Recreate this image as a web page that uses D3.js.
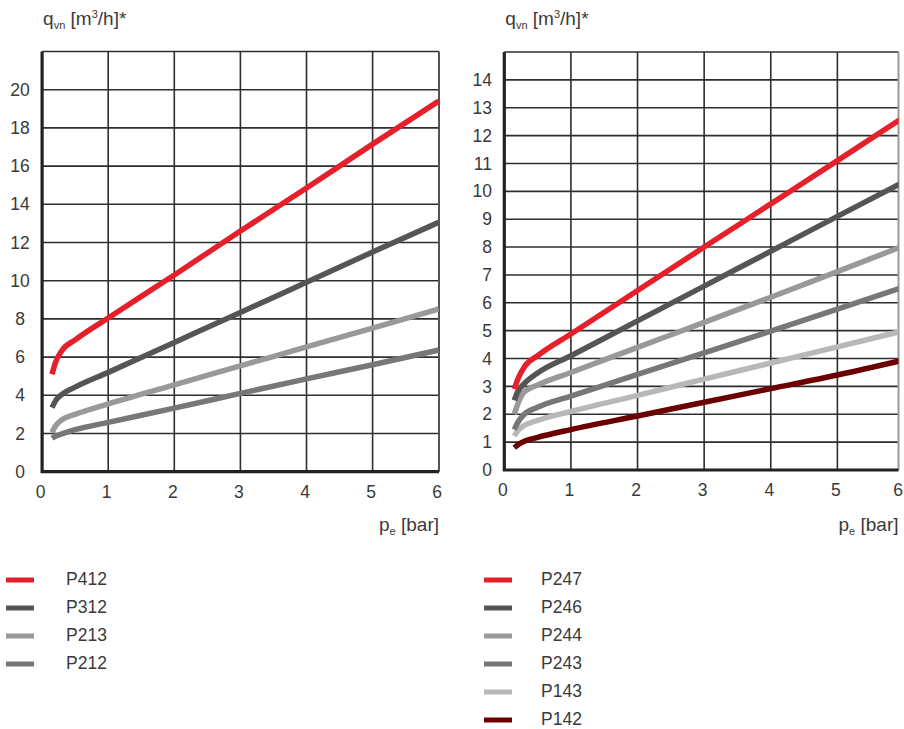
<!DOCTYPE html>
<html>
<head>
<meta charset="utf-8">
<script src="https://cdn.jsdelivr.net/npm/d3@7"></script>
<style>
  body { margin: 0; background: #fff; }
  svg { display: block; font-family: "Liberation Sans", Arial, sans-serif; }
</style>
</head>
<body>
<div id="chart"></div>
<script>
// pressure p_e [bar] where the curves were read
const pressure = [0.15, 0.2, 0.3, 0.5, 1, 2, 3, 4, 5, 6];

// left panel, flow q_vn [m3/h]
const P412 = [5.1, 5.7, 6.35, 6.9, 8.05, 10.3, 12.6, 14.85, 17.15, 19.4];
const P312 = [3.35, 3.7, 4.05, 4.43, 5.2, 6.77, 8.34, 9.92, 11.5, 13.06];
const P213 = [2.05, 2.38, 2.72, 3.0, 3.55, 4.55, 5.54, 6.53, 7.52, 8.52];
const P212 = [1.75, 1.85, 1.98, 2.2, 2.58, 3.33, 4.1, 4.86, 5.6, 6.37];
const leftTicksY = [0, 2, 4, 6, 8, 10, 12, 14, 16, 18, 20];

// right panel
const P247 = [2.9, 3.25, 3.7, 4.1, 4.88, 6.44, 8.0, 9.55, 11.1, 12.67];
const P246 = [2.5, 2.8, 3.1, 3.48, 4.1, 5.35, 6.6, 7.85, 9.1, 10.34];
const P244 = [2.0, 2.35, 2.8, 3.05, 3.5, 4.4, 5.3, 6.2, 7.12, 8.05];
const P243 = [1.45, 1.7, 2.0, 2.25, 2.65, 3.43, 4.2, 4.98, 5.77, 6.57];
const P143 = [1.22, 1.4, 1.6, 1.78, 2.1, 2.68, 3.26, 3.84, 4.42, 5.0];
const P142 = [0.8, 0.9, 1.03, 1.17, 1.45, 1.94, 2.43, 2.92, 3.41, 3.95];
const rightTicksY = [0, 1, 2, 3, 4, 5, 6, 7, 8, 9, 10, 11, 12, 13, 14];

const ticksX = [0, 1, 2, 3, 4, 5, 6];

const colors = {
    P412: "#e5202b", P312: "#555555", P213: "#999999", P212: "#777777",
    P247: "#e5202b", P246: "#555555", P244: "#999999", P243: "#777777",
    P143: "#b8b8b8", P142: "#6b0000"
};

const W = 904, H = 729;
const svg = d3.select("#chart").append("svg")
    .attr("width", W)
    .attr("height", H);

const textColor = "#3a3a3a";

function drawPanel(opts) {
    let x = d3.scaleLinear().domain([0, 6]).range([opts.left, opts.right]);
    let y = d3.scaleLinear().domain([0, opts.yMax]).range([opts.bottom, opts.top]);
    let clipRight = opts.clipRight;

    let g = svg.append("g");

    // grid
    let gridY = d3.range(opts.yStep, opts.yMax + 0.001, opts.yStep);
    g.selectAll(".gy").data(gridY).join("line")
        .attr("x1", x(0)).attr("x2", clipRight)
        .attr("y1", d => y(d)).attr("y2", d => y(d))
        .attr("stroke", "#2e2e2e").attr("stroke-width", 1.6);

    let gridX = ticksX.filter(d => d > 0 && x(d) < clipRight - 2);
    g.selectAll(".gx").data(gridX).join("line")
        .attr("x1", d => x(d)).attr("x2", d => x(d))
        .attr("y1", y(0)).attr("y2", y(opts.yMax))
        .attr("stroke", "#2e2e2e").attr("stroke-width", 1.6);

    // right border of the frame
    g.append("line")
        .attr("x1", clipRight).attr("x2", clipRight)
        .attr("y1", y(0)).attr("y2", y(opts.yMax))
        .attr("stroke", opts.borderColor).attr("stroke-width", 2);

    // curves
    let clipId = "clip" + opts.id;
    svg.append("clipPath").attr("id", clipId)
        .append("rect")
        .attr("x", x(0)).attr("y", y(opts.yMax))
        .attr("width", clipRight - x(0)).attr("height", y(0) - y(opts.yMax));

    let line = d3.line()
        .x(d => x(d[0]))
        .y(d => y(d[1]))
        .curve(d3.curveMonotoneX);

    g.append("g").attr("clip-path", "url(#" + clipId + ")")
        .selectAll("path").data(opts.series.slice().reverse()).join("path")
        .attr("d", s => line(pressure.map((p, i) => [p, s.values[i]])))
        .attr("fill", "none")
        .attr("stroke", s => colors[s.name])
        .attr("stroke-width", 5.5);

    // thick left and bottom axis
    g.append("path")
        .attr("d", "M" + x(0) + "," + y(opts.yMax) + "V" + y(0) + "H" + clipRight)
        .attr("fill", "none")
        .attr("stroke", "#222")
        .attr("stroke-width", 3.2);

    // tick labels
    g.selectAll(".ty").data(opts.ticksY).join("text")
        .attr("x", opts.yLabelX)
        .attr("y", d => y(d))
        .attr("dy", "0.35em")
        .attr("text-anchor", opts.yLabelAnchor)
        .attr("font-size", 17.5)
        .attr("fill", textColor)
        .text(d => d);

    g.selectAll(".tx").data(ticksX).join("text")
        .attr("x", d => Math.min(x(d) - 1.5, 898))
        .attr("y", opts.bottom + 20)
        .attr("dy", "0.35em")
        .attr("text-anchor", "middle")
        .attr("font-size", 17.5)
        .attr("fill", textColor)
        .text(d => d);

    // axis titles
    let yt = g.append("text")
        .attr("x", opts.left + 1)
        .attr("y", 25)
        .attr("font-size", 19)
        .attr("fill", textColor);
    yt.append("tspan").text("q");
    yt.append("tspan").attr("font-size", 11).attr("dy", 4).text("vn");
    yt.append("tspan").attr("dy", -4).text(" [m");
    yt.append("tspan").attr("font-size", 11).attr("dy", -7).text("3");
    yt.append("tspan").attr("dy", 7).text("/h]*");

    let xt = g.append("text")
        .attr("x", clipRight)
        .attr("y", 531)
        .attr("text-anchor", "end")
        .attr("font-size", 19)
        .attr("fill", textColor);
    xt.append("tspan").text("p");
    xt.append("tspan").attr("font-size", 11).attr("dy", 4).text("e");
    xt.append("tspan").attr("dy", -4).text(" [bar]");

    // legend
    let leg = svg.append("g").selectAll("g").data(opts.series).join("g")
        .attr("transform", (s, i) => "translate(0," + (579 + i * 28) + ")");
    leg.append("line")
        .attr("x1", opts.legendX).attr("x2", opts.legendX + 28)
        .attr("y1", 1).attr("y2", 1)
        .attr("stroke", s => colors[s.name])
        .attr("stroke-width", 5);
    leg.append("text")
        .attr("x", opts.legendTextX)
        .attr("y", 0)
        .attr("dy", "0.35em")
        .attr("font-size", 17.5)
        .attr("fill", textColor)
        .text(s => s.name);
}

drawPanel({
    id: "L",
    left: 42.1, right: 438.7, clipRight: 439,
    top: 51.5, bottom: 471.7,
    yMax: 22, yStep: 2, ticksY: leftTicksY,
    yLabelX: 20, yLabelAnchor: "middle",
    borderColor: "#555",
    legendX: 6, legendTextX: 66,
    series: [
        {name: "P412", values: P412},
        {name: "P312", values: P312},
        {name: "P213", values: P213},
        {name: "P212", values: P212}
    ]
});

drawPanel({
    id: "R",
    left: 504.3, right: 904, clipRight: 898.5,
    top: 52, bottom: 470,
    yMax: 15, yStep: 1, ticksY: rightTicksY,
    yLabelX: 492, yLabelAnchor: "end",
    borderColor: "#999",
    legendX: 484, legendTextX: 541,
    series: [
        {name: "P247", values: P247},
        {name: "P246", values: P246},
        {name: "P244", values: P244},
        {name: "P243", values: P243},
        {name: "P143", values: P143},
        {name: "P142", values: P142}
    ]
});
</script>
</body>
</html>
